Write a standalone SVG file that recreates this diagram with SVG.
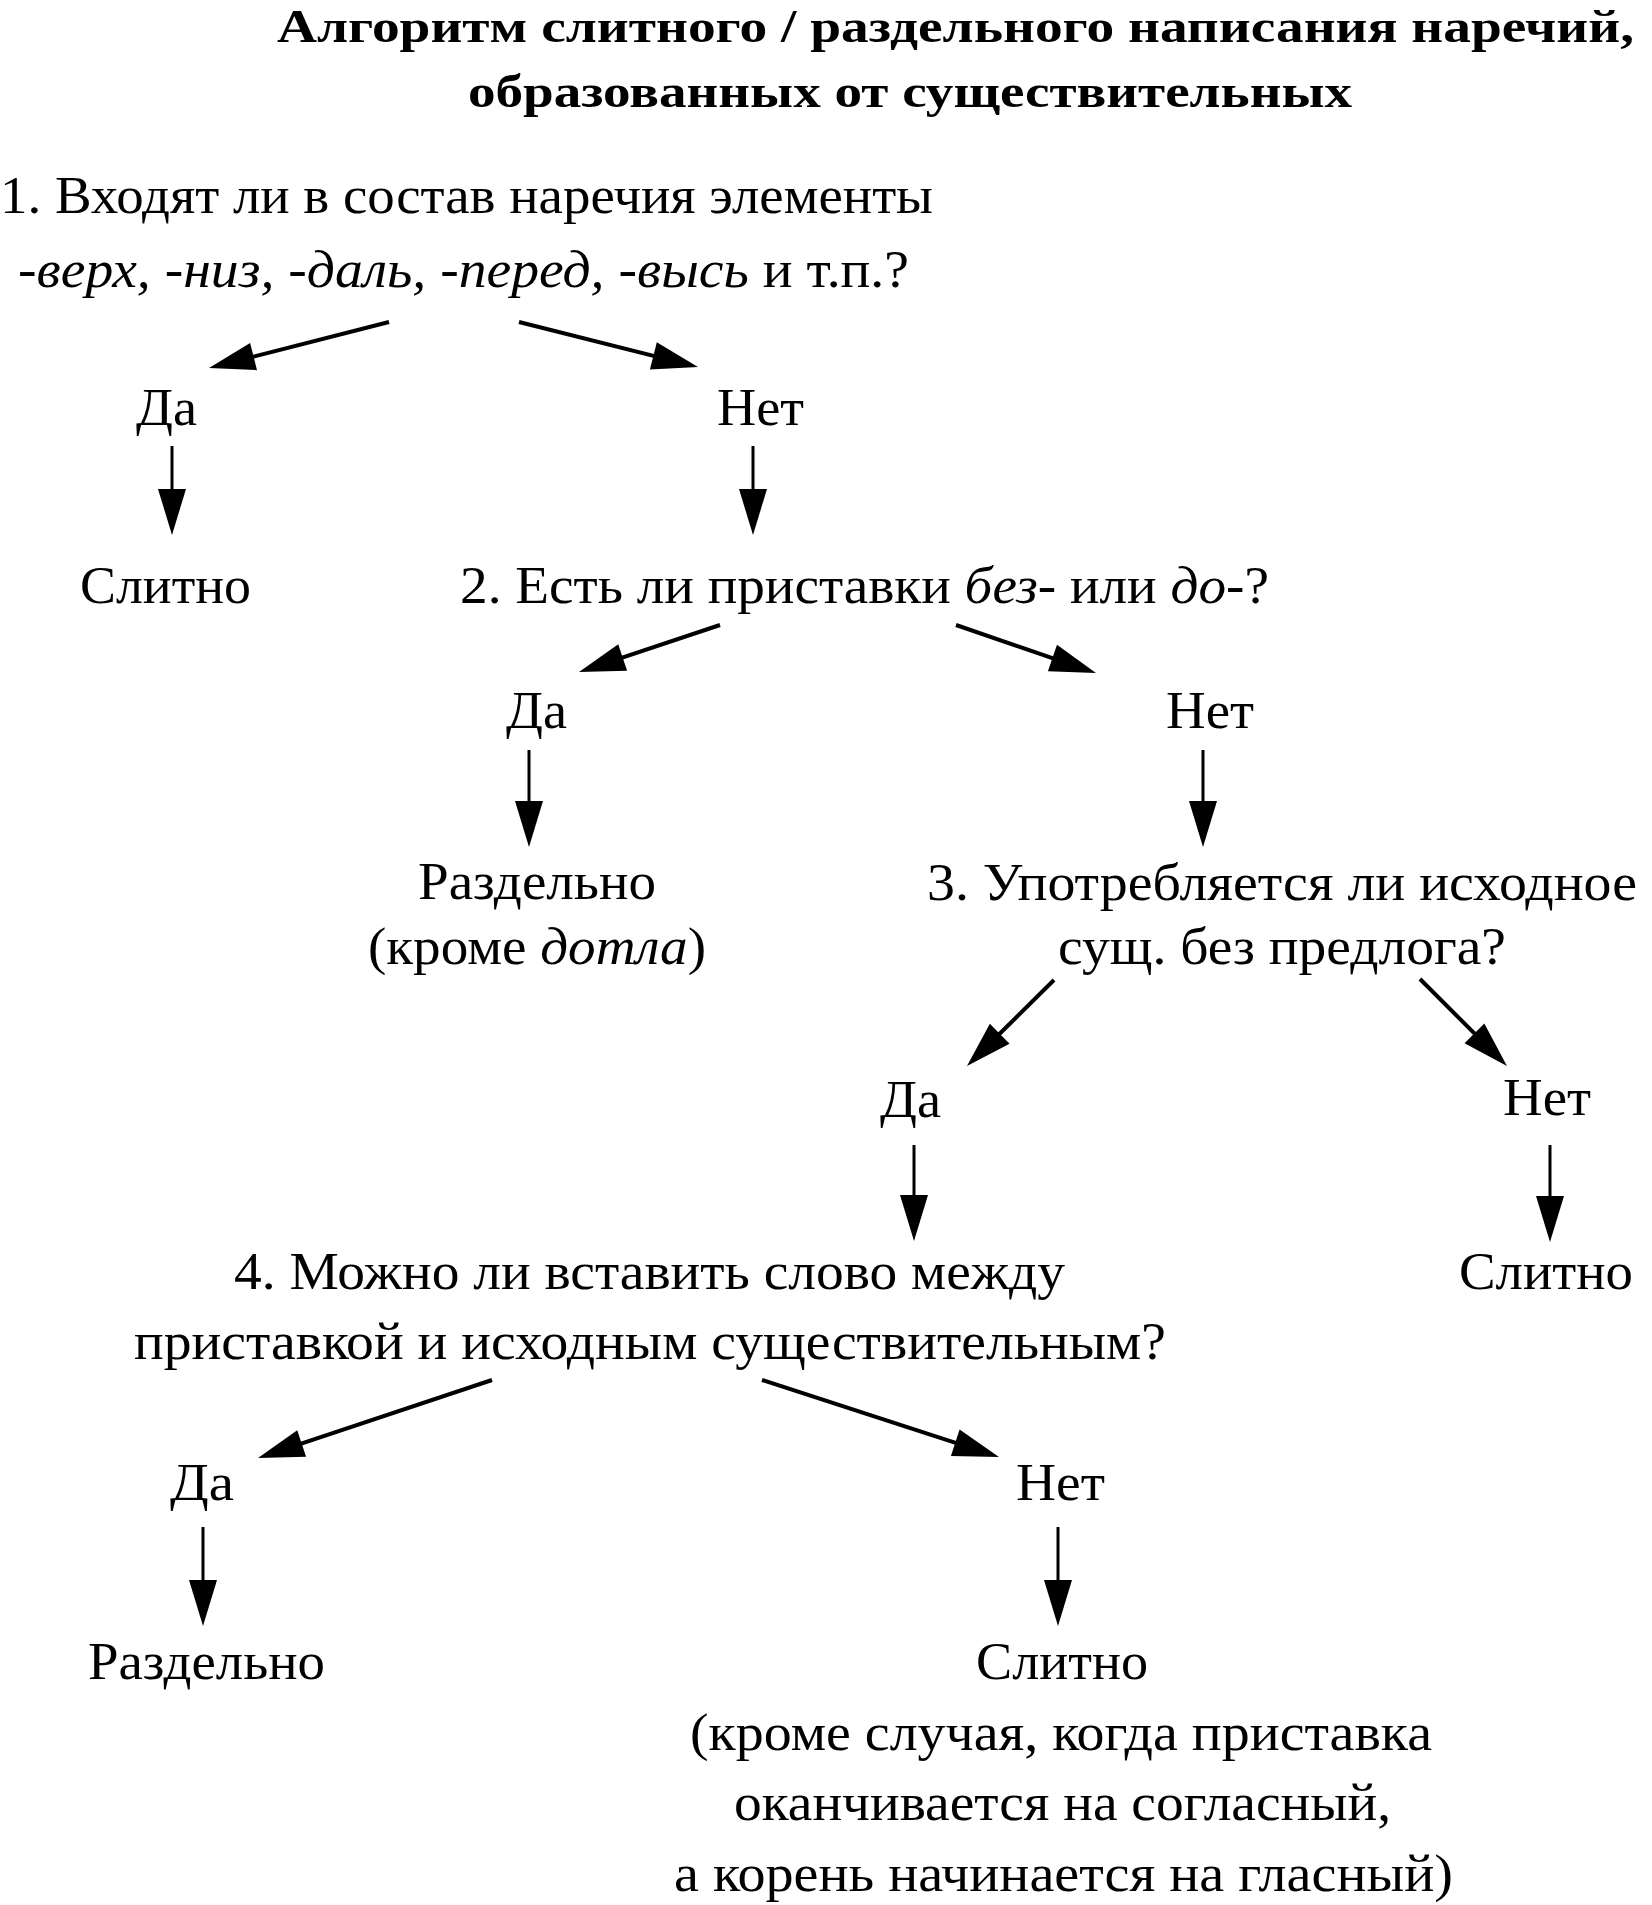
<svg xmlns="http://www.w3.org/2000/svg" width="1652" height="1905" viewBox="0 0 1652 1905">
<style>
text{font-family:"Liberation Serif","Times New Roman",serif;fill:#000;}
.t{font-size:47px;font-weight:bold;}
.b{font-size:52px;}
.i{font-style:italic;}
.d{stroke:#000;stroke-width:4;fill:none;marker-end:url(#ah);}
.v{stroke:#000;stroke-width:3;fill:none;marker-end:url(#ah);}
</style>
<defs>
<marker id="ah" markerUnits="userSpaceOnUse" markerWidth="46" markerHeight="28" refX="36" refY="14" orient="auto" overflow="visible">
<path d="M0,0 L46,14 L0,28 z" fill="#000"/>
</marker>
</defs>
<rect width="1652" height="1905" fill="#fff"/>
<g id="title">
<text class="t" x="277" y="42" textLength="1357" lengthAdjust="spacingAndGlyphs">Алгоритм слитного / раздельного написания наречий,</text>
<text class="t" x="468" y="107" textLength="884" lengthAdjust="spacingAndGlyphs">образованных от существительных</text>
</g>
<g id="q1">
<text class="b" x="0" y="213" textLength="933" lengthAdjust="spacingAndGlyphs">1. Входят ли в состав наречия элементы</text>
<text class="b" x="18" y="287" textLength="891" lengthAdjust="spacingAndGlyphs"><tspan class="i">-верх, -низ, -даль, -перед, -высь</tspan> и т.п.?</text>
</g>
<g id="yes1"><text class="b" x="136" y="425" textLength="61" lengthAdjust="spacingAndGlyphs">Да</text></g>
<g id="no1"><text class="b" x="717" y="425" textLength="87" lengthAdjust="spacingAndGlyphs">Нет</text></g>
<g id="res1"><text class="b" x="80" y="603" textLength="171" lengthAdjust="spacingAndGlyphs">Слитно</text></g>
<g id="q2"><text class="b" x="460" y="603" textLength="809" lengthAdjust="spacingAndGlyphs">2. Есть ли приставки <tspan class="i">без</tspan>- или <tspan class="i">до</tspan>-?</text></g>
<g id="yes2"><text class="b" x="506" y="728" textLength="61" lengthAdjust="spacingAndGlyphs">Да</text></g>
<g id="no2"><text class="b" x="1166" y="728" textLength="88" lengthAdjust="spacingAndGlyphs">Нет</text></g>
<g id="res2">
<text class="b" x="418" y="899" textLength="238" lengthAdjust="spacingAndGlyphs">Раздельно</text>
<text class="b" x="368" y="964" textLength="338" lengthAdjust="spacingAndGlyphs">(кроме <tspan class="i">дотла</tspan>)</text>
</g>
<g id="q3">
<text class="b" x="927" y="900" textLength="710" lengthAdjust="spacingAndGlyphs">3. Употребляется ли исходное</text>
<text class="b" x="1058" y="964" textLength="448" lengthAdjust="spacingAndGlyphs">сущ. без предлога?</text>
</g>
<g id="yes3"><text class="b" x="880" y="1117" textLength="61" lengthAdjust="spacingAndGlyphs">Да</text></g>
<g id="no3"><text class="b" x="1503" y="1115" textLength="88" lengthAdjust="spacingAndGlyphs">Нет</text></g>
<g id="res3"><text class="b" x="1459" y="1289" textLength="174" lengthAdjust="spacingAndGlyphs">Слитно</text></g>
<g id="q4">
<text class="b" x="234" y="1289" textLength="831" lengthAdjust="spacingAndGlyphs">4. Можно ли вставить слово между</text>
<text class="b" x="134" y="1359" textLength="1032" lengthAdjust="spacingAndGlyphs">приставкой и исходным существительным?</text>
</g>
<g id="yes4"><text class="b" x="170" y="1500" textLength="64" lengthAdjust="spacingAndGlyphs">Да</text></g>
<g id="no4"><text class="b" x="1016" y="1500" textLength="89" lengthAdjust="spacingAndGlyphs">Нет</text></g>
<g id="res4a"><text class="b" x="88" y="1679" textLength="237" lengthAdjust="spacingAndGlyphs">Раздельно</text></g>
<g id="res4b">
<text class="b" x="976" y="1679" textLength="172" lengthAdjust="spacingAndGlyphs">Слитно</text>
<text class="b" x="690" y="1750" textLength="742" lengthAdjust="spacingAndGlyphs">(кроме случая, когда приставка</text>
<text class="b" x="734" y="1820" textLength="657" lengthAdjust="spacingAndGlyphs">оканчивается на согласный,</text>
<text class="b" x="674" y="1891" textLength="779" lengthAdjust="spacingAndGlyphs">а корень начинается на гласный)</text>
</g>
<g id="connectors">
<line class="d" x1="389" y1="322" x2="218.7" y2="365.5"/>
<line class="d" x1="519" y1="322" x2="688.3" y2="364.6"/>
<line class="v" x1="172" y1="446" x2="172" y2="525"/>
<line class="v" x1="753" y1="446" x2="753" y2="525"/>
<line class="d" x1="720" y1="625" x2="588.5" y2="668.8"/>
<line class="d" x1="956" y1="625" x2="1086.5" y2="669.8"/>
<line class="v" x1="529" y1="750" x2="529" y2="837"/>
<line class="v" x1="1203" y1="750" x2="1203" y2="837"/>
<line class="d" x1="1054" y1="980" x2="974.1" y2="1059"/>
<line class="d" x1="1420" y1="979" x2="1499.9" y2="1058.9"/>
<line class="v" x1="914" y1="1145" x2="914" y2="1231"/>
<line class="v" x1="1550" y1="1145" x2="1550" y2="1232"/>
<line class="d" x1="492" y1="1380" x2="267.5" y2="1454.8"/>
<line class="d" x1="762" y1="1380" x2="989.5" y2="1453.9"/>
<line class="v" x1="203" y1="1527" x2="203" y2="1616"/>
<line class="v" x1="1058" y1="1527" x2="1058" y2="1616"/>
</g>
</svg>
